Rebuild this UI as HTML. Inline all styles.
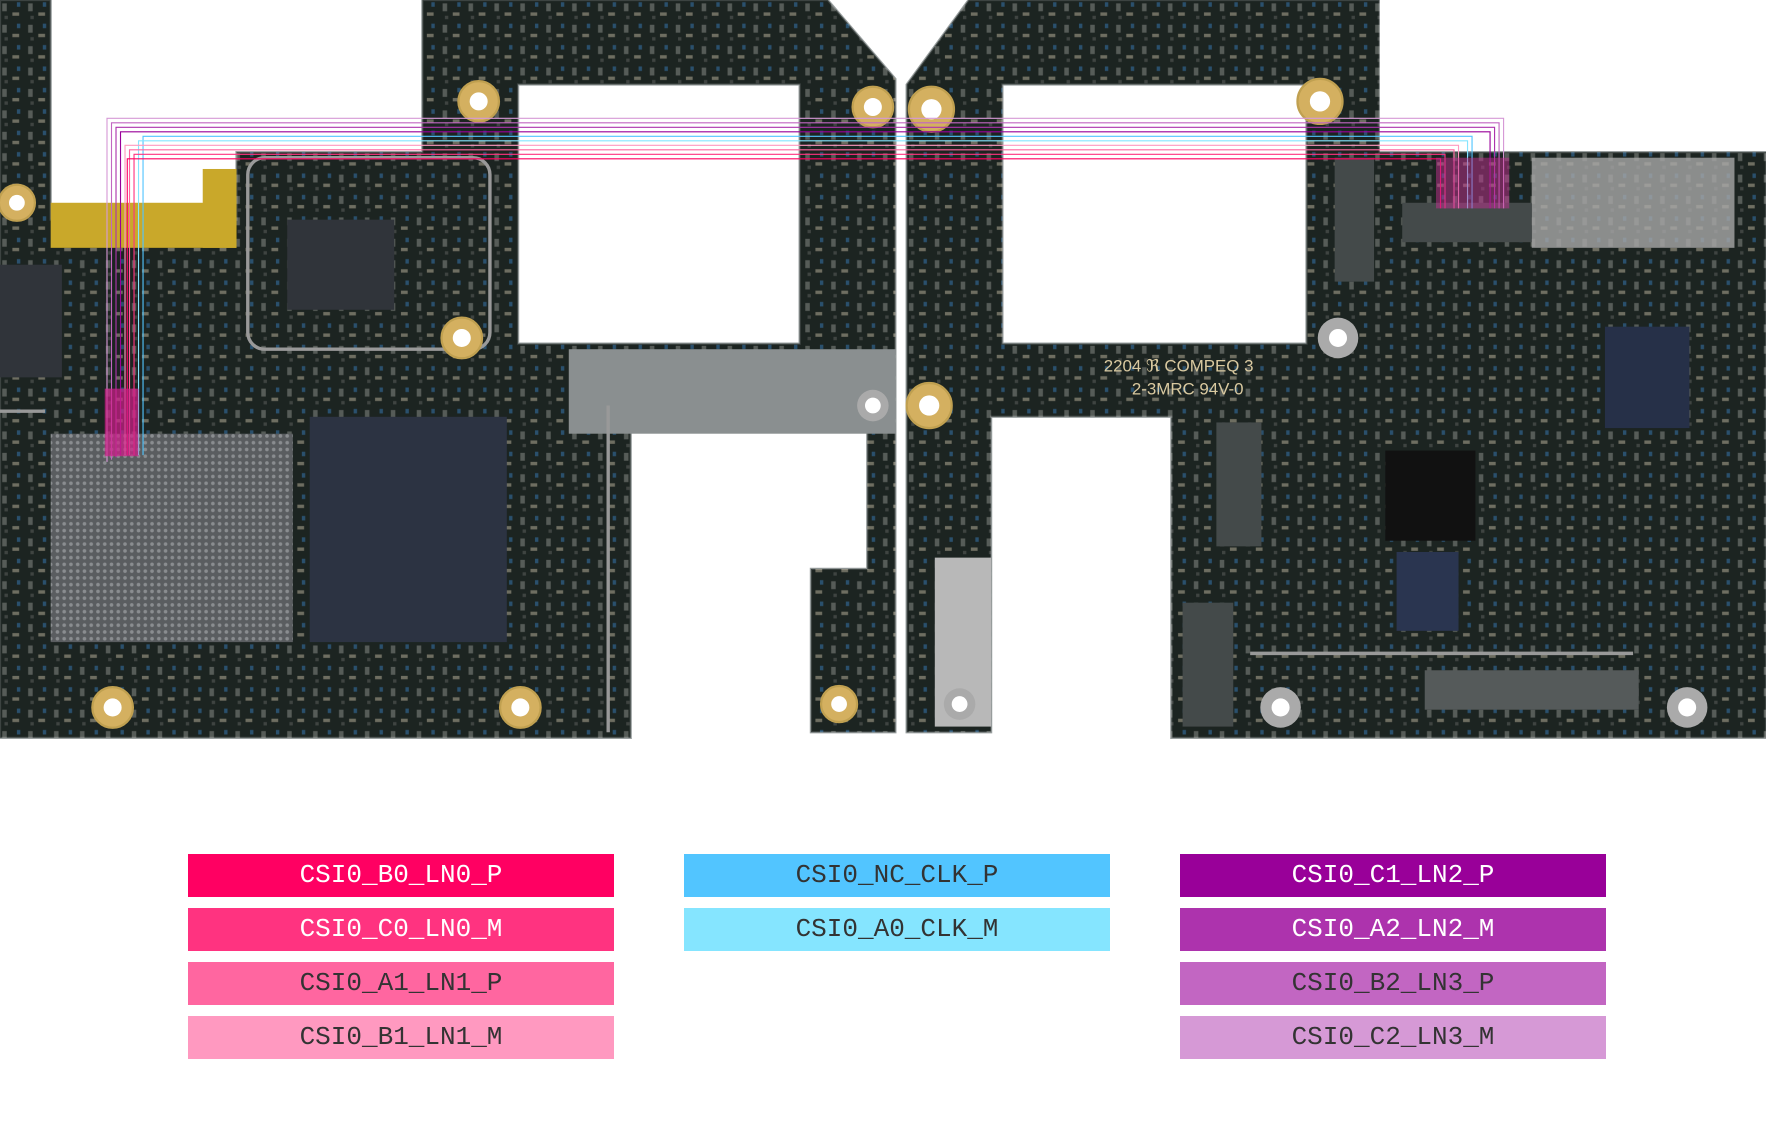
<!DOCTYPE html>
<html><head><meta charset="utf-8"><style>
html,body{margin:0;padding:0;background:#fff;width:1766px;height:1122px;overflow:hidden;position:relative}
svg{position:absolute;left:0;top:0}
.b{position:absolute;height:43px;width:426px;font-family:"Liberation Mono","DejaVu Sans Mono",monospace;font-size:26px;line-height:43px;text-align:center;color:#333}
.w{color:#fff}
</style></head><body>
<svg width="1766" height="1122" viewBox="0 0 1568 996" preserveAspectRatio="none">
<defs>
<pattern id="bga" width="6" height="6" patternUnits="userSpaceOnUse"><rect width="6" height="6" fill="#5a5d60"/><circle cx="3" cy="3" r="1.6" fill="#8a8d90"/></pattern>
<pattern id="cmp" width="23" height="19" patternUnits="userSpaceOnUse"><rect width="23" height="19" fill="#1c2421"/><rect x="2" y="3" width="4" height="7" fill="#6a6e6a"/><rect x="11" y="11" width="6" height="3" fill="#8a8676"/><rect x="15" y="2" width="3" height="4" fill="#2f5f86"/><rect x="4" y="14" width="3" height="3" fill="#4a4e4c"/></pattern>
<clipPath id="bd"><path fill-rule="evenodd" clip-rule="evenodd" d="M0,0 H45 V195 H210 V135 H375 V0 H735 L795,70 V650 H720 V505 H770 V370 H560 V655 H0 Z M460,75 H710 V305 H460 Z M805,75 L860,0 H1225 V135 H1568 V655 H1040 V370 H880 V650 H805 Z M890,75 H1160 V305 H890 Z"/></clipPath>
</defs>
<path fill="#1c2421" fill-rule="evenodd" stroke="#9aa0a0" stroke-width="2" d="M0,0 H45 V195 H210 V135 H375 V0 H735 L795,70 V650 H720 V505 H770 V370 H560 V655 H0 Z M460,75 H710 V305 H460 Z"/>
<path fill="#1c2421" fill-rule="evenodd" stroke="#9aa0a0" stroke-width="2" d="M805,75 L860,0 H1225 V135 H1568 V655 H1040 V370 H880 V650 H805 Z M890,75 H1160 V305 H890 Z"/>
<g clip-path="url(#bd)" opacity=".75">
<rect x="0" y="0" width="1568" height="660" fill="url(#cmp)"/>
</g>
<rect x="1225" y="0" width="327" height="134" fill="#fff"/>
<rect x="45" y="180" width="165" height="40" fill="#c9a82a"/>
<rect x="180" y="150" width="30" height="70" fill="#c9a82a"/>
<rect x="505" y="310" width="290" height="75" fill="#8a8f90"/>
<rect x="830" y="495" width="50" height="150" fill="#b8b8b8"/>
<rect x="1360" y="140" width="180" height="80" fill="#a8a8a8" opacity=".8"/>
<rect x="45" y="385" width="215" height="185" fill="url(#bga)"/>
<rect x="275" y="370" width="175" height="200" fill="#2c3342"/>
<rect x="255" y="195" width="95" height="80" fill="#30343a"/>
<rect x="1425" y="290" width="75" height="90" fill="#263048"/>
<rect x="1240" y="490" width="55" height="70" fill="#2a3550"/>
<rect x="1230" y="400" width="80" height="80" fill="#111"/>
<rect x="1265" y="595" width="190" height="35" fill="#555a5a"/>
<rect x="1080" y="375" width="40" height="110" fill="#444a4a"/>
<rect x="1185" y="140" width="35" height="110" fill="#444a4a"/>
<rect x="1245" y="180" width="115" height="35" fill="#444a4a"/>
<rect x="1050" y="535" width="45" height="110" fill="#444a4a"/>
<rect x="0" y="235" width="55" height="100" fill="#30343a"/>
<rect x="220" y="140" width="215" height="170" fill="none" stroke="#999" stroke-width="3" rx="15"/>
<path d="M0,365 H40 M540,360 V650 M1110,580 H1450" stroke="#999" stroke-width="3" fill="none"/>
<g fill="#d4b060" stroke="#c0a050" stroke-width="2">
<circle cx="425" cy="90" r="18"/><circle cx="775" cy="95" r="18"/><circle cx="410" cy="300" r="18"/><circle cx="100" cy="628" r="18"/><circle cx="462" cy="628" r="18"/><circle cx="745" cy="625" r="16"/><circle cx="827" cy="97" r="20"/><circle cx="1172" cy="90" r="20"/><circle cx="825" cy="360" r="20"/><circle cx="15" cy="180" r="16"/></g>
<g fill="#aaa"><circle cx="1188" cy="300" r="18"/><circle cx="1137" cy="628" r="18"/><circle cx="1498" cy="628" r="18"/><circle cx="775" cy="360" r="14"/><circle cx="852" cy="625" r="14"/></g>
<g fill="#fff"><circle cx="425" cy="90" r="8"/><circle cx="775" cy="95" r="8"/><circle cx="410" cy="300" r="8"/><circle cx="100" cy="628" r="8"/><circle cx="462" cy="628" r="8"/><circle cx="745" cy="625" r="7"/><circle cx="827" cy="97" r="9"/><circle cx="1172" cy="90" r="9"/><circle cx="825" cy="360" r="9"/><circle cx="1188" cy="300" r="8"/><circle cx="1137" cy="628" r="8"/><circle cx="1498" cy="628" r="8"/><circle cx="775" cy="360" r="7"/><circle cx="852" cy="625" r="7"/><circle cx="15" cy="180" r="7"/></g>
<text x="980" y="330" fill="#d9c9a0" font-family="Liberation Sans,sans-serif" font-size="15">2204 ℜ COMPEQ 3</text>
<text x="1005" y="350" fill="#d9c9a0" font-family="Liberation Sans,sans-serif" font-size="15">2-3MRC 94V-0</text>
<g fill="none" stroke-width="1">
<path stroke="#d699d6" d="M95,410 V105 H1335 V185"/>
<path stroke="#c266c2" d="M99,408 V109 H1331 V185"/>
<path stroke="#ad33ad" d="M103,406 V113 H1327 V185"/>
<path stroke="#990099" d="M107,404 V117 H1323 V185"/>
<path stroke="#52c5ff" d="M127,404 V121 H1307 V185"/>
<path stroke="#85e5ff" d="M123,404 V125 H1303 V185"/>
<path stroke="#ff99c0" d="M111,404 V129 H1295 V185"/>
<path stroke="#ff66a0" d="M115,404 V133 H1291 V185"/>
<path stroke="#ff3380" d="M119,404 V137 H1283 V185"/>
<path stroke="#ff0062" d="M113,404 V141 H1279 V185"/>
</g>
<rect x="93" y="345" width="30" height="60" fill="#d0208a" opacity=".7"/>
<rect x="1275" y="140" width="65" height="45" fill="#c03090" opacity=".5"/>
</svg>
<div class="b w" style="left:188px;top:854px;background:#ff0062">CSI0_B0_LN0_P</div>
<div class="b w" style="left:188px;top:908px;background:#ff3380">CSI0_C0_LN0_M</div>
<div class="b" style="left:188px;top:962px;background:#ff66a0">CSI0_A1_LN1_P</div>
<div class="b" style="left:188px;top:1016px;background:#ff99c0">CSI0_B1_LN1_M</div>
<div class="b" style="left:684px;top:854px;background:#52c5ff">CSI0_NC_CLK_P</div>
<div class="b" style="left:684px;top:908px;background:#85e5ff">CSI0_A0_CLK_M</div>
<div class="b w" style="left:1180px;top:854px;background:#990099">CSI0_C1_LN2_P</div>
<div class="b w" style="left:1180px;top:908px;background:#ad33ad">CSI0_A2_LN2_M</div>
<div class="b" style="left:1180px;top:962px;background:#c266c2">CSI0_B2_LN3_P</div>
<div class="b" style="left:1180px;top:1016px;background:#d699d6">CSI0_C2_LN3_M</div>
</body></html>
